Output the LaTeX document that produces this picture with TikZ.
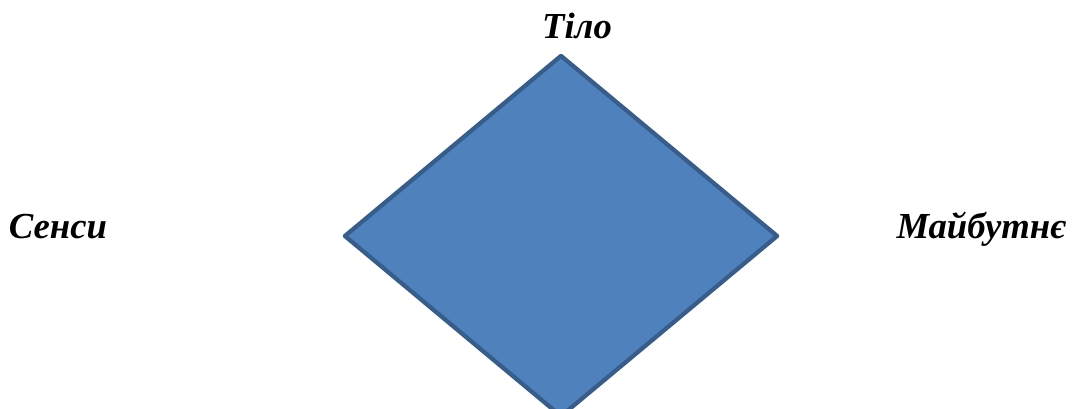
\documentclass[tikz,border=0pt]{standalone}
\usepackage{fontspec}
\setmainfont{Liberation Serif}
\usetikzlibrary{positioning,shapes.geometric}
\definecolor{rhombfill}{HTML}{4F81BD}
\definecolor{rhombline}{HTML}{385D8A}

\begin{document}
\begin{tikzpicture}[
    x=0.75pt, y=-0.75pt,
    rhomb/.style={draw=rhombline, fill=rhombfill, diamond, aspect=1.2,
                  line width=3.2pt, line join=round, inner sep=0pt,
                  minimum width=325.5pt, minimum height=271.5pt},
    lbl/.style={font=\fontsize{27.5}{32}\selectfont\bfseries\itshape,
                inner sep=0pt, anchor=base}
]
\useasboundingbox (0,0) rectangle (1074,409);
\node[rhomb] (centre) at (561,236) {};
\node[lbl] (body) at (577,39) {Тіло};
\node[lbl] (senses) at (58,239) {Сенси};
\node[lbl] (future) at (981,239) {Майбутнє};
\end{tikzpicture}
\end{document}
